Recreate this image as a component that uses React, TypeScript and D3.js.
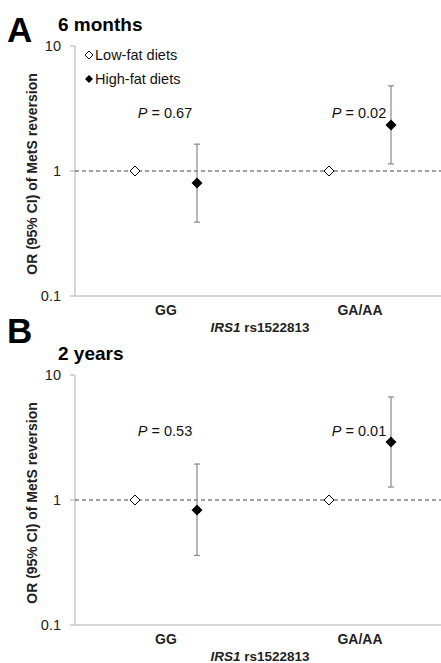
import React from "react";
import * as d3 from "d3";

const categories = ["GG", "GA/AA"];
const series = ["Low-fat diets", "High-fat diets"];
const yTicks = [0.1, 1, 10];

const panelALabel = "A";
const panelATitle = "6 months";
const panelALow = [1, 1];
const panelAHigh = [0.8, 2.33];
const panelAHighLo = [0.39, 1.14];
const panelAHighHi = [1.64, 4.8];
const panelAP = ["0.67", "0.02"];

const panelBLabel = "B";
const panelBTitle = "2 years";
const panelBLow = [1, 1];
const panelBHigh = [0.83, 2.91];
const panelBHighLo = [0.36, 1.27];
const panelBHighHi = [1.94, 6.67];
const panelBP = ["0.53", "0.01"];

const FONT = "'Liberation Sans', Arial, Helvetica, sans-serif";

function diamond(cx: number, cy: number, r: number) {
  return `M${cx},${cy - r}L${cx + r},${cy}L${cx},${cy + r}L${cx - r},${cy}Z`;
}

function Panel(props: {
  top: number;
  label: string;
  labelY: number;
  title: string;
  low: number[];
  high: number[];
  lo: number[];
  hi: number[];
  pvals: string[];
  legend: boolean;
  pY: number;
}) {
  const { top, label, labelY, title, low, high, lo, hi, pvals, legend, pY } = props;
  const axisX = 75;
  const y = d3.scaleLog().domain([0.1, 10]).range([top + 250, top]);
  const x = d3.scalePoint<string>().domain(categories).range([166, 360]);
  const off = 31;
  const bottom = y(0.1);
  return (
    <g>
      <text x={7} y={labelY} fontSize={35} fontWeight="bold" fontFamily={FONT}>{label}</text>
      <text x={58} y={top - 15} fontSize={19} fontWeight="bold" fontFamily={FONT}>{title}</text>
      <line x1={axisX} x2={axisX} y1={y(10)} y2={bottom} stroke="#c8c8c8" strokeWidth={1.5} />
      <line x1={axisX} x2={441} y1={bottom} y2={bottom} stroke="#c8c8c8" strokeWidth={1.5} />
      {yTicks.map((t) => (
        <g key={t}>
          <line x1={axisX - 5} x2={axisX} y1={y(t)} y2={y(t)} stroke="#c8c8c8" strokeWidth={1.5} />
          <text x={61} y={y(t) + 5} fontSize={14.5} textAnchor="end" fontFamily={FONT} fill="#222">{t}</text>
        </g>
      ))}
      <line x1={axisX} x2={441} y1={y(1)} y2={y(1)} stroke="#444" strokeWidth={1.2} strokeDasharray="4,3" />
      {categories.map((c) => (
        <text key={c} x={x(c)} y={bottom + 19} fontSize={14} fontWeight="bold" textAnchor="middle" fontFamily={FONT} fill="#222">{c}</text>
      ))}
      <text x={260} y={bottom + 36} fontSize={13.5} fontWeight="bold" textAnchor="middle" fontFamily={FONT} fill="#222">
        <tspan fontStyle="italic">IRS1</tspan> rs1522813
      </text>
      <text
        transform={`translate(37,${y(1) + 3}) rotate(-90)`}
        fontSize={14}
        fontWeight="bold"
        textAnchor="middle"
        fontFamily={FONT}
        fill="#222"
      >
        OR (95% CI) of MetS reversion
      </text>
      {categories.map((c, i) => {
        const cx = (x(c) as number) + off;
        return (
          <g key={c}>
            <line x1={cx} x2={cx} y1={y(lo[i])} y2={y(hi[i])} stroke="#888" strokeWidth={1.2} />
            <line x1={cx - 3} x2={cx + 3} y1={y(lo[i])} y2={y(lo[i])} stroke="#888" strokeWidth={1.2} />
            <line x1={cx - 3} x2={cx + 3} y1={y(hi[i])} y2={y(hi[i])} stroke="#888" strokeWidth={1.2} />
            <path d={diamond(cx, y(high[i]), 5.5)} fill="#000" />
            <path d={diamond((x(c) as number) - off, y(low[i]), 5)} fill="#fff" stroke="#000" strokeWidth={1} />
            <text x={(x(c) as number) - 1} y={pY} fontSize={14.5} textAnchor="middle" fontFamily={FONT} fill="#111">
              <tspan fontStyle="italic">P</tspan> = {pvals[i]}
            </text>
          </g>
        );
      })}
      {legend && (
        <g fontFamily={FONT} fontSize={14.5} fill="#111">
          <path d={diamond(89, top + 9, 4)} fill="#fff" stroke="#000" strokeWidth={0.9} />
          <text x={95} y={top + 14}>{series[0]}</text>
          <path d={diamond(89, top + 33, 4)} fill="#000" />
          <text x={95} y={top + 38}>{series[1]}</text>
        </g>
      )}
    </g>
  );
}

export default function App() {
  return (
    <svg width={441} height={663} style={{ position: "absolute", left: 0, top: 0, background: "#fff" }}>
      <rect width={441} height={663} fill="#fff" />
      <Panel top={46} label={panelALabel} labelY={42} title={panelATitle} low={panelALow} high={panelAHigh} lo={panelAHighLo} hi={panelAHighHi} pvals={panelAP} legend={true} pY={118} />
      <Panel top={375} label={panelBLabel} labelY={343} title={panelBTitle} low={panelBLow} high={panelBHigh} lo={panelBHighLo} hi={panelBHighHi} pvals={panelBP} legend={false} pY={436} />
    </svg>
  );
}
